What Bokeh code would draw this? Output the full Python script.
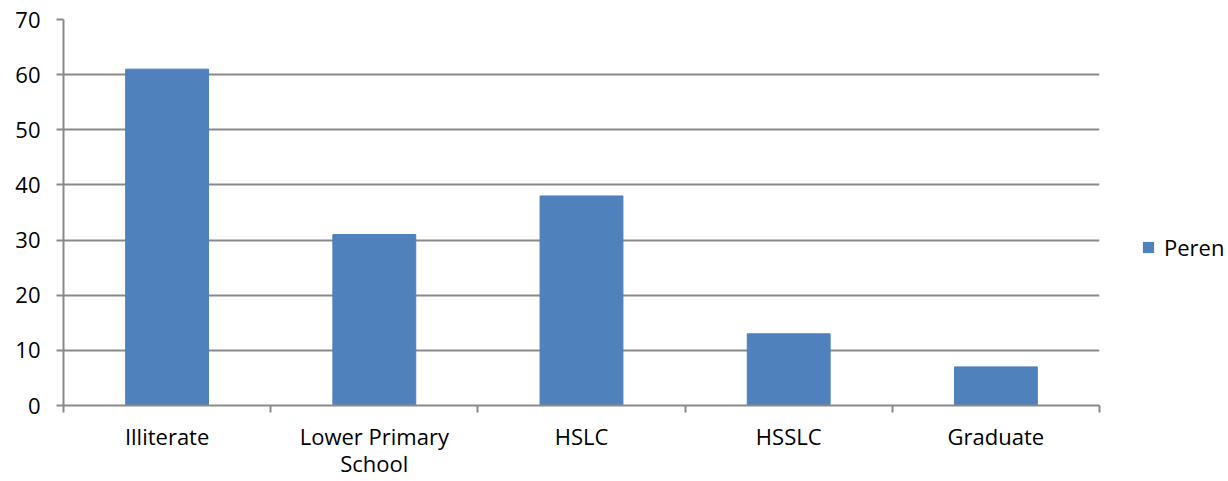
from bokeh.plotting import figure
from bokeh.layouts import row
from bokeh.models import Range1d, FixedTicker, Legend, LegendItem, ColumnDataSource
from bokeh.embed import file_html
from bokeh.resources import INLINE

categories = ["Illiterate", "Lower Primary\nSchool", "HSLC", "HSSLC", "Graduate"]
values = [61, 31, 38, 13, 7]
y_ticks = [0, 10, 20, 30, 40, 50, 60, 70]
series_name = "Peren"

FONT = "Open Sans"
FS = "22px"
GRID = "#898989"
BAR = "#4F81BD"

xs = [i + 0.5 for i in range(len(categories))]
src = ColumnDataSource(dict(x=xs, top=values))

p = figure(frame_width=1036, frame_height=386, output_backend="svg", toolbar_location=None,
           x_range=Range1d(0, len(categories)), y_range=Range1d(0, 70),
           min_border_left=63, min_border_right=6, min_border_top=19, min_border_bottom=76)
p.outline_line_color = None
p.background_fill_color = "white"
p.border_fill_color = "white"

p.vbar(x="x", top="top", width=0.4, source=src, fill_color=BAR, line_color=BAR)

# x axis
p.xaxis.ticker = FixedTicker(ticks=xs, minor_ticks=list(range(len(categories) + 1)))
p.xaxis.major_label_overrides = {x: c for x, c in zip(xs, categories)}
p.xaxis.major_tick_line_color = None
p.xaxis.minor_tick_line_color = GRID
p.xaxis.minor_tick_line_width = 2
p.xaxis.minor_tick_out = 7
p.xaxis.minor_tick_in = 0
p.xaxis.axis_line_color = GRID
p.xaxis.axis_line_width = 2
p.xaxis.major_label_standoff = 8
p.xaxis.major_label_text_font = FONT
p.xaxis.major_label_text_font_size = FS
p.xaxis.major_label_text_color = "black"
p.xaxis.major_label_text_line_height = 0.9
p.xgrid.grid_line_color = None

# y axis
p.yaxis.ticker = FixedTicker(ticks=y_ticks)
p.yaxis.major_tick_line_color = GRID
p.yaxis.major_tick_line_width = 2
p.yaxis.major_tick_out = 7
p.yaxis.major_tick_in = 0
p.yaxis.minor_tick_line_color = None
p.yaxis.axis_line_color = GRID
p.yaxis.axis_line_width = 2
p.yaxis.major_label_standoff = 16
p.yaxis.major_label_text_font = FONT
p.yaxis.major_label_text_font_size = FS
p.yaxis.major_label_text_color = "black"
p.ygrid.grid_line_color = GRID
p.ygrid.grid_line_width = 2

# legend panel (separate small figure to the right)
lg = figure(width=120, height=481, output_backend="svg", toolbar_location=None,
            x_range=Range1d(0, 1), y_range=Range1d(0, 1), min_border=0)
lg.axis.visible = False
lg.grid.grid_line_color = None
lg.outline_line_color = None
lg.border_fill_color = "white"
# off-range proxy renderer, only used to draw the legend swatch
proxy_src = ColumnDataSource(dict(x=[50], top=[60], bottom=[50]))
proxy = lg.vbar(x="x", top="top", bottom="bottom", width=0.4, source=proxy_src,
                fill_color=BAR, line_color=None)
legend = Legend(items=[LegendItem(label=series_name, renderers=[proxy])],
                location=(36, 143), padding=0, margin=0, spacing=0,
                glyph_width=14, glyph_height=14, label_standoff=9,
                label_height=14, border_line_color=None, background_fill_alpha=0,
                label_text_font=FONT, label_text_font_size=FS,
                label_text_color="black")
lg.add_layout(legend, "center")

layout = row(p, lg, spacing=0)
open("out.html", "w").write(file_html(layout, INLINE))
